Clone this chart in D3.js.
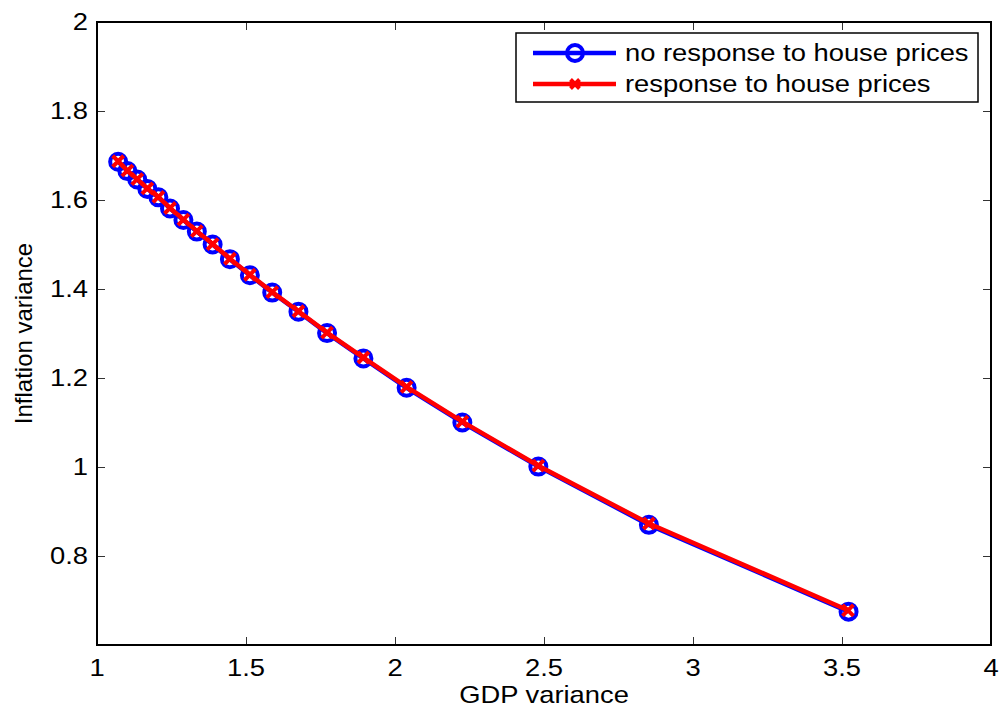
<!DOCTYPE html>
<html>
<head>
<meta charset="utf-8">
<script src="https://cdn.jsdelivr.net/npm/d3@7"></script>
<style>
  body { margin: 0; background: #fff; }
  svg text { font-family: "Liberation Sans", Arial, Helvetica, sans-serif; fill: #000; }
</style>
</head>
<body>
<svg id="chart" width="1004" height="713"></svg>
<script>
// frontier points
const gdpVarNoResp = [1.071, 1.102, 1.135, 1.169, 1.206, 1.245, 1.290, 1.335, 1.388, 1.446,
  1.513, 1.588, 1.676, 1.772, 1.894, 2.039, 2.226, 2.481, 2.852, 3.522];
const inflVarNoResp = [1.686, 1.665, 1.646, 1.625, 1.606, 1.581, 1.555, 1.529, 1.500, 1.467,
  1.431, 1.392, 1.349, 1.301, 1.244, 1.178, 1.100, 1.001, 0.870, 0.675];
const gdpVarResp = [1.071, 1.102, 1.135, 1.169, 1.206, 1.245, 1.290, 1.335, 1.388, 1.446,
  1.513, 1.588, 1.676, 1.772, 1.894, 2.039, 2.226, 2.481, 2.852, 3.520];
const inflVarResp = [1.687, 1.666, 1.647, 1.626, 1.607, 1.582, 1.556, 1.530, 1.501, 1.468,
  1.432, 1.393, 1.350, 1.302, 1.246, 1.180, 1.102, 1.003, 0.873, 0.678];

const xTicks = [1, 1.5, 2, 2.5, 3, 3.5, 4];
const yTicks = [0.8, 1, 1.2, 1.4, 1.6, 1.8, 2];
const seriesNames = ['no response to house prices', 'response to house prices'];

const svg = d3.select('#chart');
const plotL = 97, plotR = 991, plotT = 22, plotB = 645;
const stretch = 1.14; // text in the figure is a bit wider than plain Arial

const x = d3.scaleLinear().domain([1, 4]).range([plotL, plotR]);
const y = d3.scaleLinear().domain([0.6, 2]).range([plotB, plotT]);

// ticks (inward, on all four sides like a matlab box)
const tickStyle = g => {
  g.selectAll('.tick line').attr('stroke', '#333').attr('stroke-width', 1);
  g.select('.domain').remove();
  g.selectAll('.tick text').remove();
};
svg.append('g').attr('transform', `translate(0,${plotB})`)
  .call(d3.axisBottom(x).tickValues(xTicks).tickSize(-8)).call(tickStyle);
svg.append('g').attr('transform', `translate(0,${plotT})`)
  .call(d3.axisTop(x).tickValues(xTicks).tickSize(-8)).call(tickStyle);
svg.append('g').attr('transform', `translate(${plotL},0)`)
  .call(d3.axisLeft(y).tickValues(yTicks).tickSize(-8)).call(tickStyle);
svg.append('g').attr('transform', `translate(${plotR},0)`)
  .call(d3.axisRight(y).tickValues(yTicks).tickSize(-8)).call(tickStyle);

// frame
svg.append('rect')
  .attr('x', plotL).attr('y', plotT)
  .attr('width', plotR - plotL).attr('height', plotB - plotT)
  .attr('fill', 'none').attr('stroke', '#000').attr('stroke-width', 2);

// tick labels
const fmt = d => String(d);
svg.append('g').selectAll('text').data(xTicks).enter().append('text')
  .attr('transform', d => `translate(${x(d)},676) scale(${stretch},1)`)
  .attr('text-anchor', 'middle')
  .style('font-size', '24px')
  .text(fmt);
svg.append('g').selectAll('text').data(yTicks).enter().append('text')
  .attr('transform', d => `translate(88,${y(d) + 8}) scale(${stretch},1)`)
  .attr('text-anchor', 'end')
  .style('font-size', '24px')
  .text(fmt);

// axis titles
svg.append('text')
  .attr('transform', `translate(${(plotL + plotR) / 2},703) scale(${stretch},1)`)
  .attr('text-anchor', 'middle')
  .style('font-size', '24px')
  .text('GDP variance');
svg.append('text')
  .attr('transform', `translate(32,${(plotT + plotB) / 2}) rotate(-90)`)
  .attr('text-anchor', 'middle')
  .style('font-size', '24px')
  .text('Inflation variance');

const line = d3.line().x(d => x(d[0])).y(d => y(d[1]));
const ptsNo = gdpVarNoResp.map((g, i) => [g, inflVarNoResp[i]]);
const ptsRe = gdpVarResp.map((g, i) => [g, inflVarResp[i]]);

const plot = svg.append('g');

// blue series: line + open circles
plot.append('path').datum(ptsNo)
  .attr('d', line).attr('fill', 'none')
  .attr('stroke', '#0000ff').attr('stroke-width', 4.5);
plot.append('g').selectAll('circle').data(ptsNo).enter().append('circle')
  .attr('cx', d => x(d[0])).attr('cy', d => y(d[1])).attr('r', 8)
  .attr('fill', 'none').attr('stroke', '#0000ff').attr('stroke-width', 4);

// red series: line + x markers
const xMark = s => `M${-s},${-s}L${s},${s}M${-s},${s}L${s},${-s}`;
plot.append('path').datum(ptsRe)
  .attr('d', line).attr('fill', 'none')
  .attr('stroke', '#ff0000').attr('stroke-width', 4.5);
plot.append('g').selectAll('path').data(ptsRe).enter().append('path')
  .attr('transform', d => `translate(${x(d[0])},${y(d[1])})`)
  .attr('d', xMark(5.5))
  .attr('fill', 'none').attr('stroke', '#ff0000').attr('stroke-width', 4);

// legend
const lg = svg.append('g');
lg.append('rect')
  .attr('x', 516).attr('y', 33).attr('width', 462).attr('height', 69)
  .attr('fill', '#fff').attr('stroke', '#000').attr('stroke-width', 1.5);
const rows = [53, 84];
lg.append('line').attr('x1', 533).attr('x2', 616).attr('y1', rows[0]).attr('y2', rows[0])
  .attr('stroke', '#0000ff').attr('stroke-width', 4.5);
lg.append('circle').attr('cx', 575).attr('cy', rows[0]).attr('r', 8)
  .attr('fill', 'none').attr('stroke', '#0000ff').attr('stroke-width', 4);
lg.append('line').attr('x1', 533).attr('x2', 616).attr('y1', rows[1]).attr('y2', rows[1])
  .attr('stroke', '#ff0000').attr('stroke-width', 4.5);
lg.append('path').attr('transform', `translate(575,${rows[1]})`)
  .attr('d', xMark(4.5)).attr('fill', 'none')
  .attr('stroke', '#ff0000').attr('stroke-width', 4);
lg.selectAll('text.lbl').data(seriesNames).enter().append('text')
  .attr('class', 'lbl')
  .attr('transform', (d, i) => `translate(625,${rows[i] + 8}) scale(${stretch},1)`)
  .style('font-size', '24px')
  .text(d => d);
</script>
</body>
</html>
